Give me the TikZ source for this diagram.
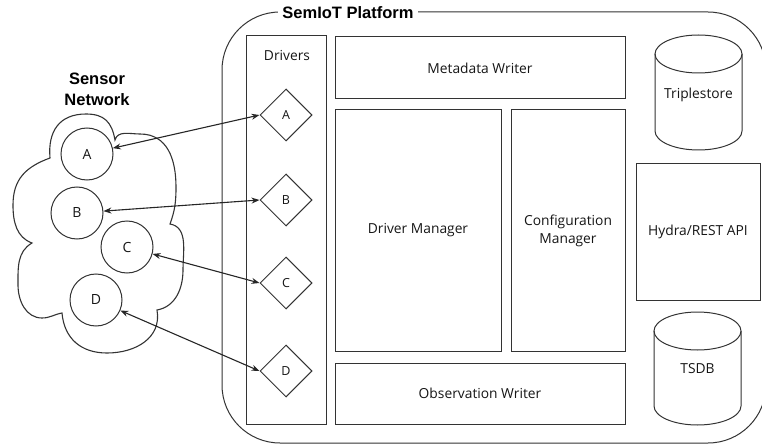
\documentclass[tikz,border=0pt]{standalone}
\usepackage{fontspec}
\setmainfont{Open Sans}
\newfontfamily\titlefont{Liberation Sans}
\usetikzlibrary{shapes.geometric,arrows.meta}
\definecolor{linec}{HTML}{333333}
\definecolor{txtc}{HTML}{151515}
\begin{document}
\begin{tikzpicture}[x=1pt,y=1pt,
  box/.style={draw=linec, line width=1pt, inner sep=0pt, align=center, text=txtc, font=\fontsize{13.8}{18}\selectfont},
  lbl/.style={font=\fontsize{13.8}{18}\selectfont, text=txtc, align=center, inner sep=0pt},
  sensor/.style={circle, draw=linec, line width=1pt, minimum size=52pt, inner sep=0pt, text=txtc, font=\fontsize{14}{16}\selectfont},
  drv/.style={diamond, draw=linec, line width=1pt, minimum width=52pt, minimum height=52pt, inner sep=0pt, text=txtc, font=\fontsize{12.5}{14}\selectfont},
  link/.style={line width=1.1pt, draw=black!85, {Stealth[length=8pt,width=6pt]}-{Stealth[length=8pt,width=6pt]}},
  cyl/.style={draw=linec, line width=1pt},
  plat/.style={draw=linec, line width=1pt},
  heading/.style={font=\titlefont\bfseries\fontsize{16.5}{21}\selectfont, text=black, align=center},
]
\useasboundingbox (0,0) rectangle (762,445);

% platform frame
\draw[plat, rounded corners=58pt] (222,2) rectangle (766,433);
\node[heading, fill=white, inner xsep=4pt, inner ysep=1pt] (title) at (348,432) {SemIoT Platform};

% drivers column
\node[box, minimum width=80pt, minimum height=388pt] (drivers) at (286,215) {};
\node[lbl] (driverslbl) at (287,389) {Drivers};

% component boxes
\node[box, minimum width=290pt, minimum height=62pt] (meta) at (480,377) {Metadata Writer};
\node[box, minimum width=166pt, minimum height=241pt] (dman) at (418,214.5) {Driver Manager};
\node[box, minimum width=114pt, minimum height=241pt] (cman) at (568,214.5) {Configuration\\Manager};
\node[box, minimum width=290pt, minimum height=61pt] (obs) at (480,51.5) {Observation Writer};
\node[box, minimum width=124pt, minimum height=136pt] (hydra) at (698,213) {Hydra/REST API};

% triplestore cylinder
\draw[cyl] (655,391) -- (655,314) arc[start angle=180, end angle=360, x radius=43.5, y radius=19] -- (742,391);
\draw[cyl] (698.5,391) ellipse[x radius=43.5, y radius=19];
\node[lbl] (triple) at (698.5,350) {Triplestore};

% TSDB cylinder
\draw[cyl] (654,114) -- (654,39) arc[start angle=180, end angle=360, x radius=43.5, y radius=19] -- (741,114);
\draw[cyl] (697.5,114) ellipse[x radius=43.5, y radius=19];
\node[lbl] (tsdb) at (697.5,76) {TSDB};

% driver diamonds
\node[drv] (dA) at (286,330) {A};
\node[drv] (dB) at (286,245) {B};
\node[drv] (dC) at (286,162) {C};
\node[drv] (dD) at (286,74) {D};

% sensor network cloud
\draw[linec, line width=1.1pt]
  (50,287) to[out=95,in=180,looseness=1.2] (86,331) to[out=0,in=100,looseness=1.2] (115,305)
  to[out=75,in=180] (140,311) to[out=0,in=90,looseness=1.1] (176,258) to[out=-90,in=70] (170,221)
  to[out=-10,in=90] (183,175) to[out=-90,in=10] (157,135)
  to[out=-80,in=0,looseness=1.1] (107,92) to[out=180,in=-85,looseness=1.1] (62,132)
  to[out=190,in=0] (42,127) to[out=180,in=-90] (18,160) to[out=90,in=210] (32,202)
  to[out=160,in=-90] (13,240) to[out=90,in=200,looseness=1.1] cycle;
\node[heading] (snlabel) at (97,356) {Sensor\\Network};

% sensors
\node[sensor] (sA) at (87,291) {A};
\node[sensor] (sB) at (77,232) {B};
\node[sensor] (sC) at (127,198) {C};
\node[sensor] (sD) at (96,145) {D};

% links
\draw[link] (sA) -- (dA.west);
\draw[link] (sB) -- (dB.west);
\draw[link] (sC) -- (dC.west);
\draw[link] (sD) -- (dD.west);
\end{tikzpicture}
\end{document}
